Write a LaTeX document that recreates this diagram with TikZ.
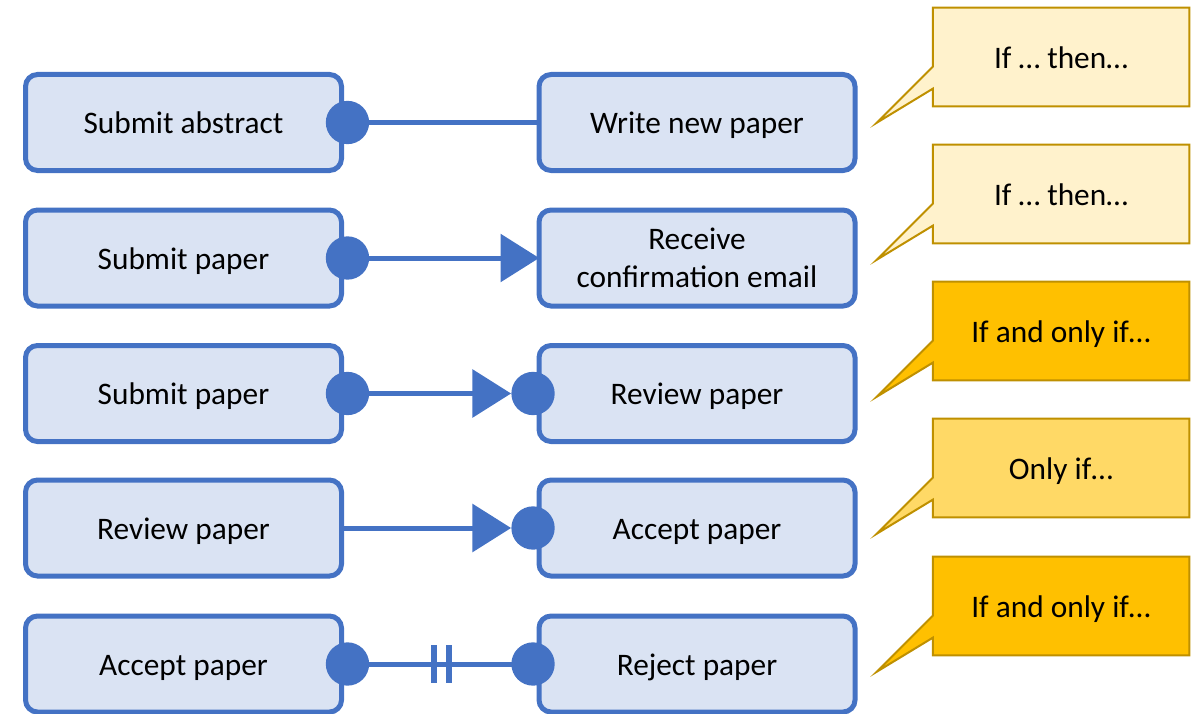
\documentclass[tikz,border=0pt]{standalone}
\usepackage{fontspec}
\setmainfont{Carlito}
\usetikzlibrary{arrows.meta,calc,backgrounds}
\definecolor{bblue}{HTML}{4472C4}
\definecolor{bfill}{HTML}{DAE3F3}
\definecolor{cline}{HTML}{BF9000}
\definecolor{clight}{HTML}{FFF2CC}
\definecolor{cdark}{HTML}{FFC000}
\definecolor{cmid}{HTML}{FFD966}
\begin{document}
\begin{tikzpicture}[x=0.75pt,y=-0.75pt,
  box/.style={draw=bblue, fill=bfill, line width=3.75pt, rounded corners=9pt,
    minimum width=237pt, minimum height=72pt, inner sep=0pt, align=center,
    font=\fontsize{23.5pt}{28.5pt}\selectfont},
  oneline/.style={text height=17pt, text depth=0pt},
  dot/.style={circle, fill=bblue, minimum size=32.5pt, inner sep=0pt},
  conn/.style={draw=bblue, line width=3.75pt},
  tri/.style={-{Triangle[length=29pt,width=35.5pt]}},
  bar/.style={rectangle, fill=bblue, minimum width=4.5pt, minimum height=28.5pt, inner sep=0pt},
  ctext/.style={minimum width=192pt, minimum height=73.5pt, inner sep=0pt,
    oneline, font=\fontsize{23.5pt}{28.5pt}\selectfont},
  cshape/.style={draw=cline, line width=1.5pt, line join=miter}]
\useasboundingbox (0,0) rectangle (1201,713);

% boxes
\node[box,oneline] (l1) at (183.5,122.5) {Submit abstract};
\node[box,oneline] (r1) at (697,122.5) {Write new paper};
\node[box,oneline] (l2) at (183.5,258) {Submit paper};
\node[box] (r2) at (697,258) {Receive\\confirmation email};
\node[box,oneline] (l3) at (183.5,393.5) {Submit paper};
\node[box,oneline] (r3) at (697,393.5) {Review paper};
\node[box,oneline] (l4) at (183.5,528) {Review paper};
\node[box,oneline] (r4) at (697,528) {Accept paper};
\node[box,oneline] (l5) at (183.5,664) {Accept paper};
\node[box,oneline] (r5) at (697,664) {Reject paper};

% connectors
\coordinate (t2) at ([xshift=2pt]r2.west);
\draw[conn] ([xshift=2.6pt]l1.east) -- (r1.west);
\draw[conn,tri] ([xshift=2.6pt]l2.east) -- (t2);
\node[dot] (e3) at ([xshift=-2.6pt]r3.west) {};
\draw[conn,tri] ([xshift=2.6pt]l3.east) -- (e3.west);
\node[dot] (e4) at ([xshift=-2.6pt]r4.west) {};
\draw[conn,tri] (l4.east) -- (e4.west);
\node[dot] (e5) at ([xshift=-2.6pt]r5.west) {};
\draw[conn] ([xshift=2.6pt]l5.east) -- node[bar,pos=0.464]{} node[bar,pos=0.546]{} (e5.center);

% start dots
\node[dot] (d1) at ([xshift=2.6pt]l1.east) {};
\node[dot] (d2) at ([xshift=2.6pt]l2.east) {};
\node[dot] (d3) at ([xshift=2.6pt]l3.east) {};
\node[dot] (d5) at ([xshift=2.6pt]l5.east) {};

% callouts
\node[ctext] (c1) at (1061,57) {If … then…};
\node[ctext] (c2) at (1061,194) {If … then…};
\node[ctext] (c3) at (1061,331) {If and only if…};
\node[ctext] (c4) at (1061,468) {Only if…};
\node[ctext] (c5) at (1061,606) {If and only if…};
\begin{scope}[on background layer]
\foreach \c/\f in {c1/clight,c2/clight,c3/cdark,c4/cmid,c5/cdark}{
  \filldraw[cshape, fill=\f] (\c.north west) -- (\c.north east) -- (\c.south east)
    -- (\c.south west) -- ($(\c.north west)+(0,81)$) -- ($(\c.north west)+(-56,115)$)
    -- ($(\c.north west)+(0,59)$) -- cycle;
}
\end{scope}
\end{tikzpicture}
\end{document}
